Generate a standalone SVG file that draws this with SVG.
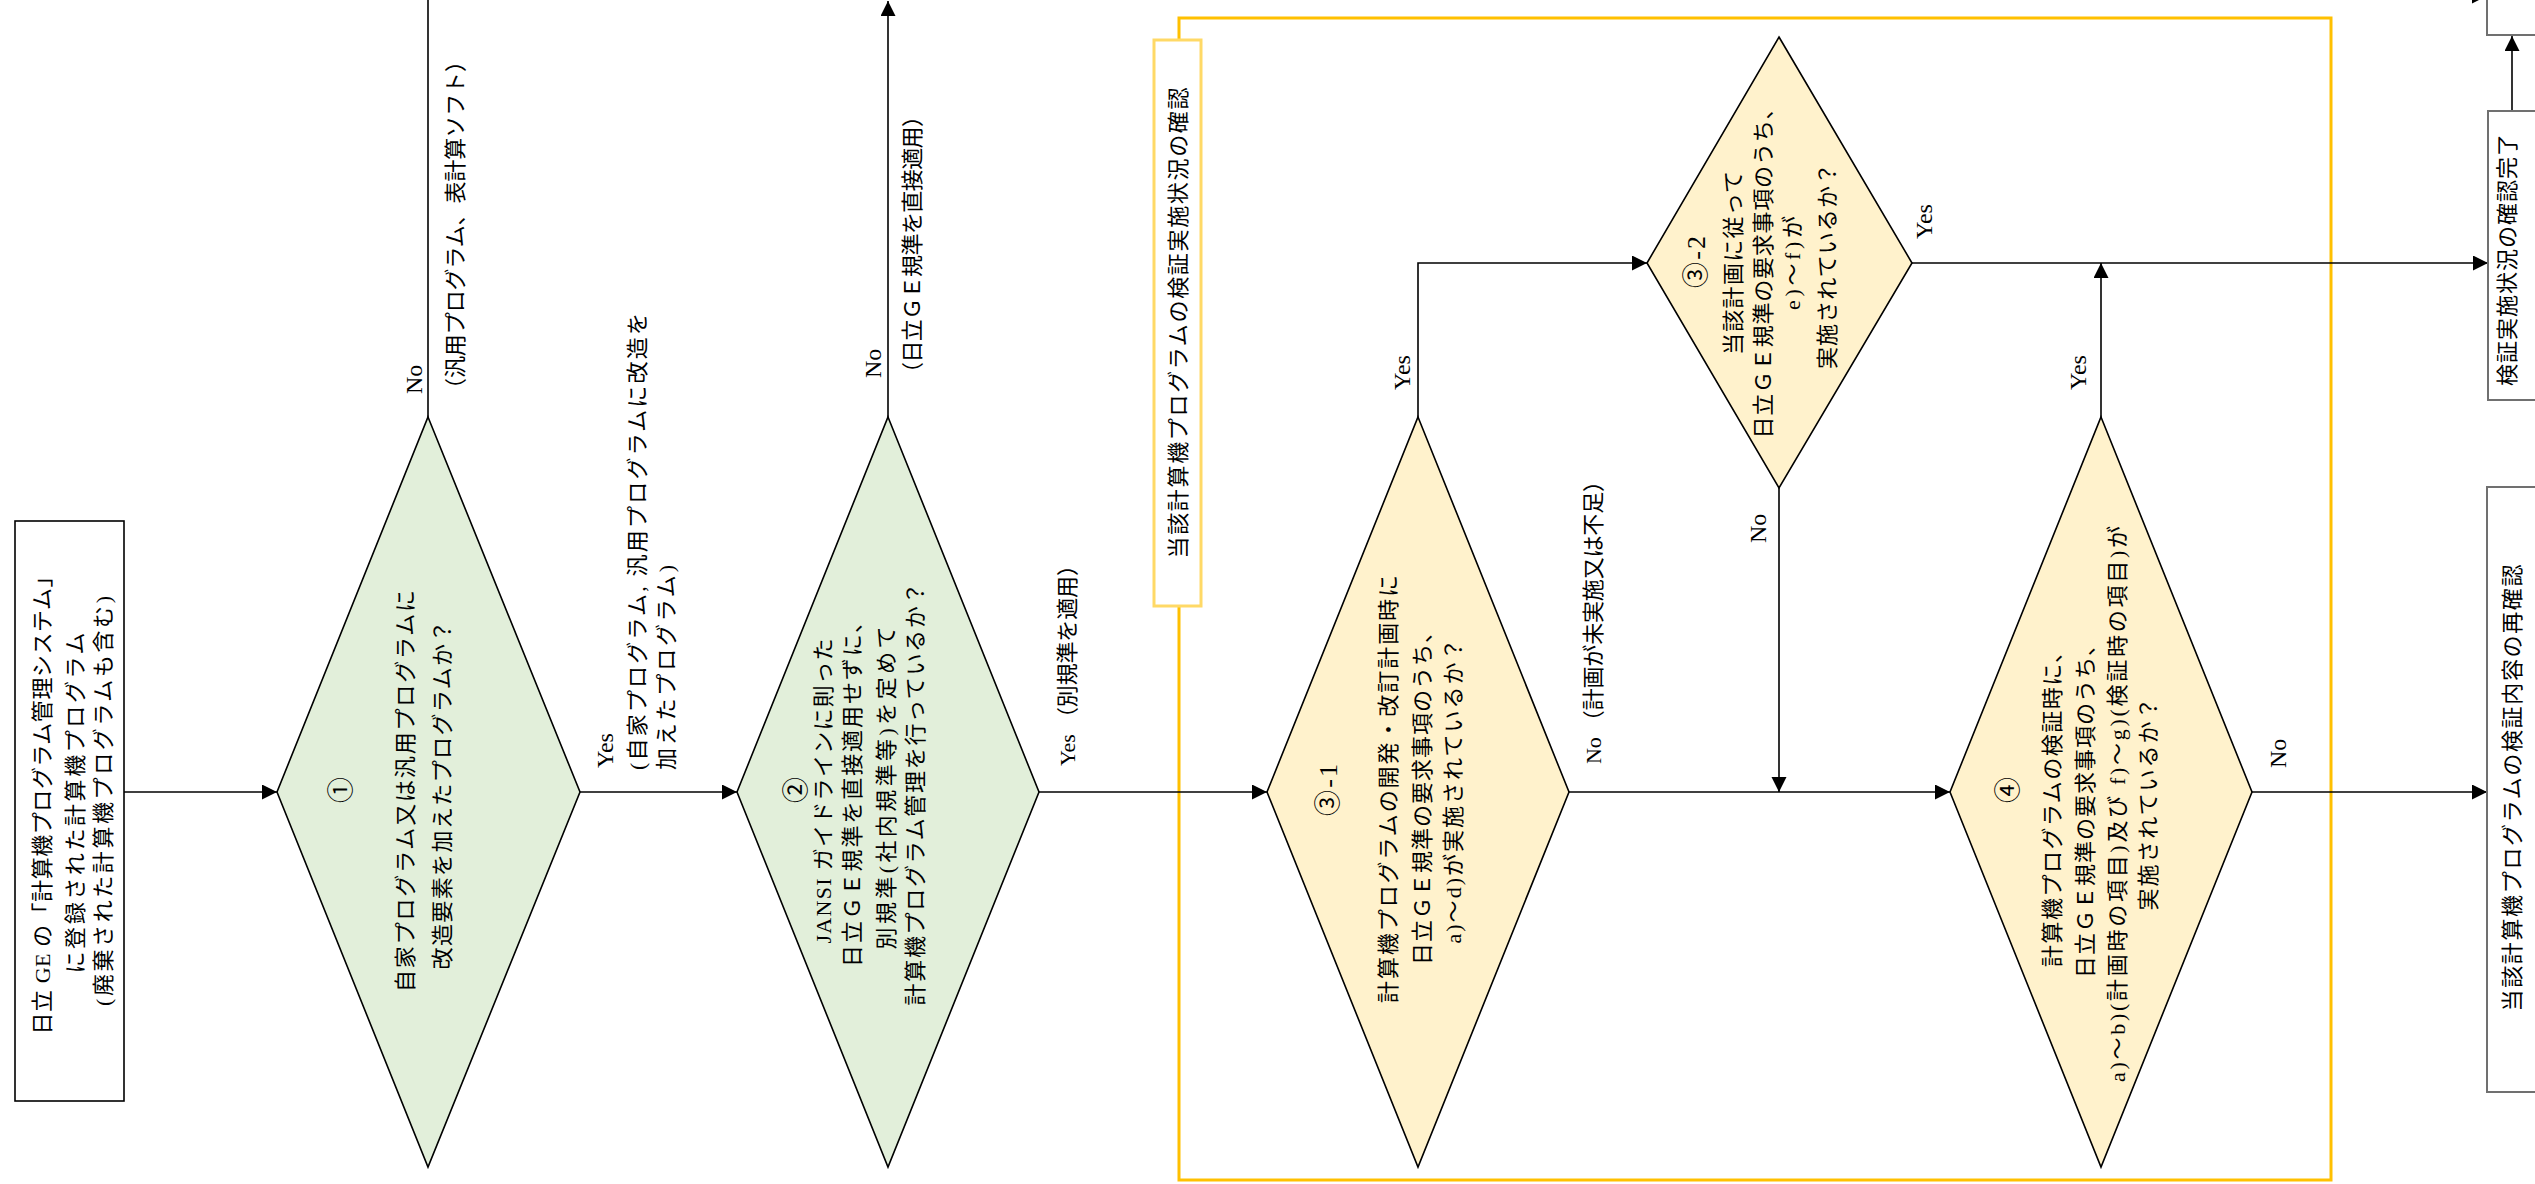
<svg xmlns="http://www.w3.org/2000/svg" width="2535" height="1184" viewBox="0 0 2535 1184">
<defs>
<style>
.t{font-family:"Liberation Serif","Noto Sans CJK JP",serif;font-size:22px;fill:#000;}
.l{font-size:24px;}
.n{font-size:26px;}
.c{text-anchor:middle;dominant-baseline:central;}
.s{text-anchor:start;dominant-baseline:central;}
.ln{fill:none;stroke:#000;stroke-width:1.6;}
.arr{marker-end:url(#ah);}
.dg{fill:#E2EFDA;stroke:#000;stroke-width:1.6;}
.dy{fill:#FFF2CC;stroke:#000;stroke-width:1.6;}
.bx{fill:#fff;stroke:#000;stroke-width:1.6;}
.bg{fill:#fff;stroke:#707070;stroke-width:2;}
</style>
<marker id="ah" markerUnits="userSpaceOnUse" markerWidth="16" markerHeight="16" refX="15" refY="7.5" orient="auto">
<path d="M0,0 L15,7.5 L0,15 z" fill="#000"/>
</marker>
</defs>
<rect width="2535" height="1184" fill="#fff"/>

<g id="group-frame">
<rect x="1179" y="18" width="1152" height="1162" fill="none" stroke="#FFC000" stroke-width="3"/>
</g>

<g id="connectors">
<line class="ln arr" x1="124" y1="792" x2="277" y2="792"/>
<line class="ln" x1="428" y1="417" x2="428" y2="-5"/>
<line class="ln arr" x1="580" y1="792" x2="737" y2="792"/>
<line class="ln arr" x1="888" y1="417" x2="888" y2="1"/>
<line class="ln arr" x1="1039" y1="792" x2="1267" y2="792"/>
<polyline class="ln arr" points="1418,417 1418,263 1647,263"/>
<line class="ln arr" x1="1569" y1="792" x2="1950" y2="792"/>
<line class="ln arr" x1="1779" y1="488" x2="1779" y2="792"/>
<line class="ln arr" x1="1912" y1="263" x2="2488" y2="263"/>
<line class="ln arr" x1="2101" y1="417" x2="2101" y2="263"/>
<line class="ln arr" x1="2252" y1="792" x2="2487" y2="792"/>
<line class="ln arr" x1="2512" y1="111" x2="2512" y2="36"/>
<line class="ln arr" x1="2300" y1="-4" x2="2487" y2="-4"/>
</g>

<g id="connector-labels">
<text class="t l s" transform="translate(414,394) rotate(-90)">No</text>
<text class="t s" transform="translate(455,400) rotate(-90)" textLength="350" lengthAdjust="spacing">（汎用プログラム、表計算ソフト）</text>
<text class="t l s" transform="translate(605,768) rotate(-90)">Yes</text>
<text class="t s" transform="translate(637,770) rotate(-90)" textLength="457" lengthAdjust="spacing">(自家プログラム, 汎用プログラムに改造を</text>
<text class="t s" transform="translate(666,770) rotate(-90)" textLength="205" lengthAdjust="spacing">加えたプログラム)</text>
<text class="t l s" transform="translate(873,378) rotate(-90)">No</text>
<text class="t s" transform="translate(912,384) rotate(-90)" textLength="279" lengthAdjust="spacing">（日立ＧＥ規準を直接適用）</text>
<text class="t s" transform="translate(1067,766) rotate(-90)" textLength="212" lengthAdjust="spacing">Yes （別規準を適用）</text>
<text class="t l s" transform="translate(1402,390) rotate(-90)">Yes</text>
<text class="t s" transform="translate(1593,764) rotate(-90)" textLength="294" lengthAdjust="spacing">No （計画が未実施又は不足）</text>
<text class="t l s" transform="translate(1924,239) rotate(-90)">Yes</text>
<text class="t l s" transform="translate(1758,543) rotate(-90)">No</text>
<text class="t l s" transform="translate(2078,390) rotate(-90)">Yes</text>
<text class="t l s" transform="translate(2278,768) rotate(-90)">No</text>
</g>

<g id="node-start">
<rect class="bx" x="15" y="521" width="109" height="580"/>
<text class="t c" transform="translate(42,800) rotate(-90)" textLength="469" lengthAdjust="spacing">日立 GE の「計算機プログラム管理システム」</text>
<text class="t c" transform="translate(75,803) rotate(-90)" textLength="341" lengthAdjust="spacing">に登録された計算機プログラム</text>
<text class="t c" transform="translate(103,801) rotate(-90)" textLength="410" lengthAdjust="spacing">(廃棄された計算機プログラムも含む)</text>
</g>

<g id="node-q1">
<polygon class="dg" points="428,417 580,792 428,1167 277,792"/>
<text class="t n c" transform="translate(341,790) rotate(-90)">①</text>
<text class="t c" transform="translate(405,791) rotate(-90)" textLength="402" lengthAdjust="spacing">自家プログラム又は汎用プログラムに</text>
<text class="t c" transform="translate(442,795) rotate(-90)" textLength="349" lengthAdjust="spacing">改造要素を加えたプログラムか？</text>
</g>

<g id="node-q2">
<polygon class="dg" points="888,417 1039,792 888,1167 737,792"/>
<text class="t n c" transform="translate(796,790) rotate(-90)">②</text>
<text class="t c" transform="translate(823,791) rotate(-90)" textLength="305" lengthAdjust="spacing">JANSI ガイドラインに則った</text>
<text class="t c" transform="translate(852,789) rotate(-90)" textLength="356" lengthAdjust="spacing">日立ＧＥ規準を直接適用せずに、</text>
<text class="t c" transform="translate(886,788) rotate(-90)" textLength="323" lengthAdjust="spacing">別規準(社内規準等)を定めて</text>
<text class="t c" transform="translate(915,794) rotate(-90)" textLength="423" lengthAdjust="spacing">計算機プログラム管理を行っているか？</text>
</g>

<g id="node-title">
<rect x="1154" y="40" width="47" height="566" fill="#fff" stroke="#FFD966" stroke-width="3"/>
<text class="t c" transform="translate(1178,323) rotate(-90)" textLength="471" lengthAdjust="spacing">当該計算機プログラムの検証実施状況の確認</text>
</g>

<g id="node-q3-1">
<polygon class="dy" points="1418,417 1569,792 1418,1167 1267,792"/>
<text class="t n c" transform="translate(1328,790) rotate(-90)" textLength="52" lengthAdjust="spacing">③-1</text>
<text class="t c" transform="translate(1388,789) rotate(-90)" textLength="428" lengthAdjust="spacing">計算機プログラムの開発・改訂計画時に</text>
<text class="t c" transform="translate(1422,793) rotate(-90)" textLength="344" lengthAdjust="spacing">日立ＧＥ規準の要求事項のうち、</text>
<text class="t c" transform="translate(1453,791) rotate(-90)" textLength="305" lengthAdjust="spacing">a)～d)が実施されているか？</text>
</g>

<g id="node-q3-2">
<polygon class="dy" points="1779,37 1912,263 1779,488 1647,263"/>
<text class="t n c" transform="translate(1696,262) rotate(-90)" textLength="52" lengthAdjust="spacing">③-2</text>
<text class="t c" transform="translate(1733,263) rotate(-90)" textLength="184" lengthAdjust="spacing">当該計画に従って</text>
<text class="t c" transform="translate(1763,268) rotate(-90)" textLength="341" lengthAdjust="spacing">日立ＧＥ規準の要求事項のうち、</text>
<text class="t c" transform="translate(1792,263) rotate(-90)" textLength="94" lengthAdjust="spacing">e)～f)が</text>
<text class="t c" transform="translate(1827,266) rotate(-90)" textLength="206" lengthAdjust="spacing">実施されているか？</text>
</g>

<g id="node-q4">
<polygon class="dy" points="2101,417 2252,792 2101,1167 1950,792"/>
<text class="t n c" transform="translate(2008,790) rotate(-90)">④</text>
<text class="t c" transform="translate(2052,804) rotate(-90)" textLength="326" lengthAdjust="spacing">計算機プログラムの検証時に、</text>
<text class="t c" transform="translate(2085,806) rotate(-90)" textLength="344" lengthAdjust="spacing">日立ＧＥ規準の要求事項のうち、</text>
<text class="t c" transform="translate(2117,804) rotate(-90)" textLength="556" lengthAdjust="spacing">a)～b)(計画時の項目)及び f)～g)(検証時の項目)が</text>
<text class="t c" transform="translate(2148,804) rotate(-90)" textLength="213" lengthAdjust="spacing">実施されているか？</text>
</g>

<g id="node-top-right">
<rect class="bg" x="2487" y="-100" width="70" height="135"/>
</g>

<g id="node-done">
<rect class="bg" x="2488" y="111" width="70" height="289"/>
<text class="t c" transform="translate(2507,260) rotate(-90)" textLength="252" lengthAdjust="spacing">検証実施状況の確認完了</text>
</g>

<g id="node-recheck">
<rect class="bg" x="2487" y="487" width="70" height="605"/>
<text class="t c" transform="translate(2512,788) rotate(-90)" textLength="447" lengthAdjust="spacing">当該計算機プログラムの検証内容の再確認</text>
</g>
</svg>
